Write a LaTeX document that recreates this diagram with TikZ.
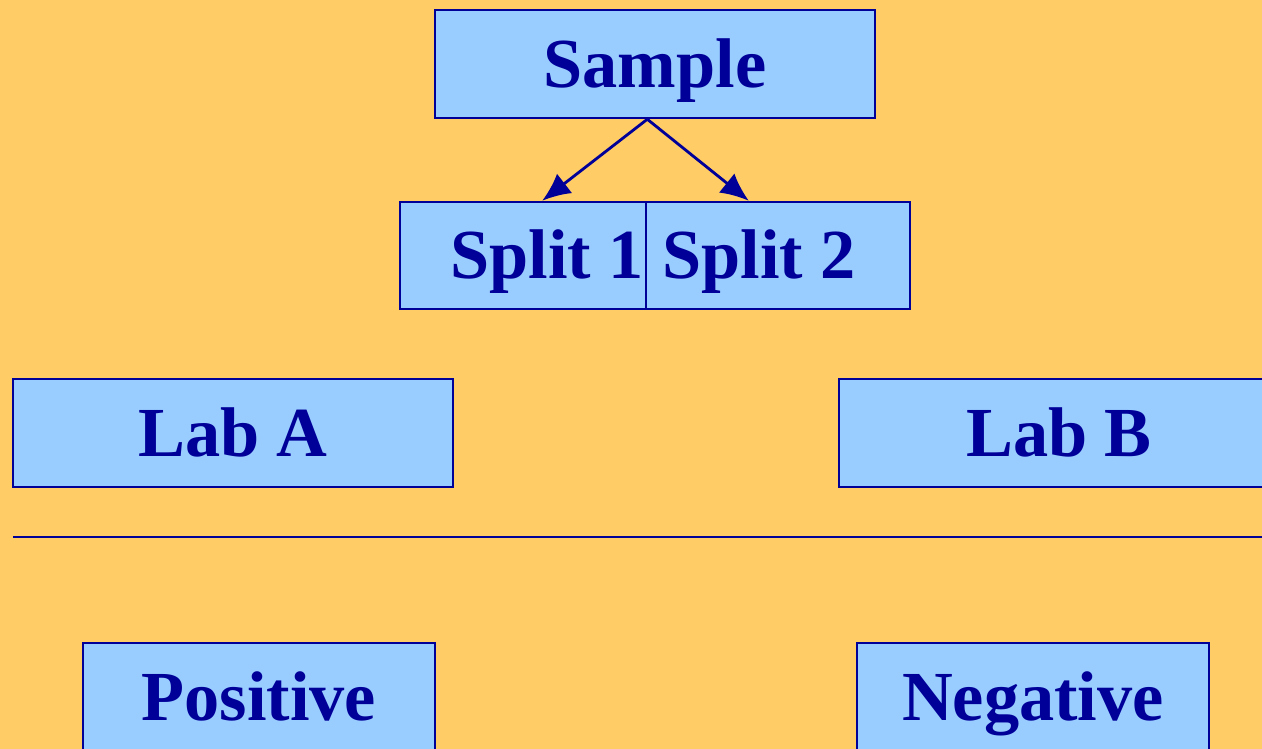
\documentclass[tikz,border=0pt]{standalone}
\usepackage{fontspec}
\setmainfont{Liberation Serif}
\usetikzlibrary{arrows.meta}
\definecolor{bg}{RGB}{255,204,102}
\definecolor{boxfill}{RGB}{153,204,255}
\definecolor{navy}{RGB}{0,0,153}
\begin{document}
\begin{tikzpicture}[x=.01cm, y=-.01cm, >={Latex[length=8pt,width=7pt]},
        word/.style={text=navy, font=\bfseries\fontsize{20}{24}\selectfont,
            text height=13.3pt, text depth=0pt, inner sep=0pt},
        box/.style={word, draw=navy, fill=boxfill, line width=.7pt, minimum height=1.08cm}]
        \fill[bg] (0,0) rectangle (1262,749);
        \clip (0,0) rectangle (1262,749);
        \node[box, minimum width=4.4cm] (sample) at (655,64) {Sample};
        \node[box, minimum width=2.46cm, minimum height=1.07cm] (split1) at (523,255.5) {};
        \node[box, minimum width=2.64cm, minimum height=1.07cm] (split2) at (778,255.5) {};
        \node[word] (split1txt) at ([xshift=.24cm]split1) {Split 1};
        \node[word] (split2txt) at ([xshift=-.19cm]split2) {Split 2};
        \node[box, minimum width=4.4cm] (labA) at (233,433) {Lab A};
        \node[box, minimum width=4.4cm] (labB) at (1059,433) {Lab B};
        \draw[navy, line width=.7pt] (13,537)--(1262,537);
        \node[box, minimum width=3.52cm] (pos) at (259,697) {Positive};
        \node[box, minimum width=3.52cm] (neg) at (1033,697) {Negative};
        \coordinate (fork) at (split1.north east |- sample.south);
        \draw[->, navy, line width=.8pt] (fork)--([xshift=-1.05cm]split1.north east);
        \draw[->, navy, line width=.8pt] (fork)--([xshift=1.04cm]split2.north west);
\end{tikzpicture}
\end{document}
